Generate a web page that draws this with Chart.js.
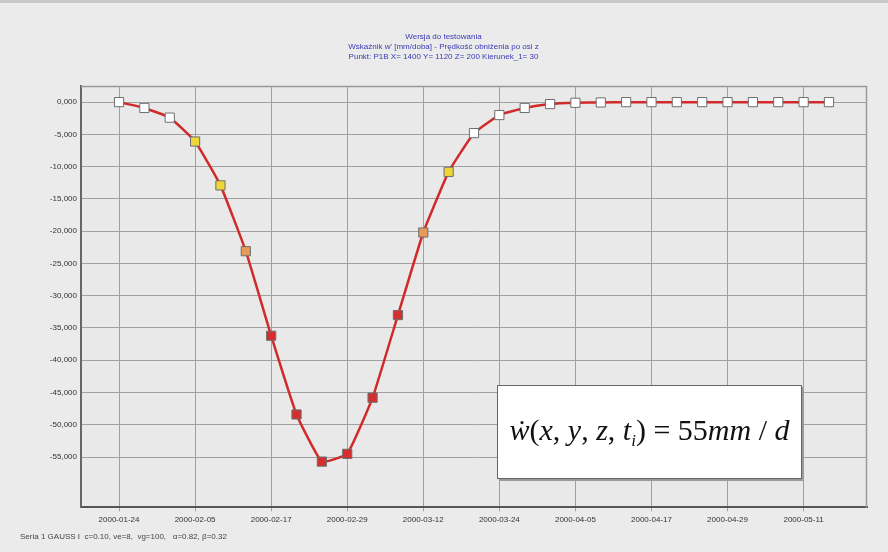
<!DOCTYPE html>
<html>
<head>
<meta charset="utf-8">
<script src="https://cdn.jsdelivr.net/npm/chart.js@4.4.1/dist/chart.umd.min.js"></script>
<style>
  html, body { margin: 0; padding: 0; background: #ebebeb; }
  #wrap { position: relative; width: 888px; height: 552px; background: #ebebeb; }
  #frame { position: absolute; left: 0; top: 0; width: 888px; height: 3px; background: #c8c8c8; }
  #formula {
    position: absolute; left: 497px; top: 385px; width: 303px; height: 92px;
    background: #ffffff; border: 1px solid #666; box-shadow: 2px 2px 0 #9a9a9a;
    font-family: "Liberation Serif", "DejaVu Serif", serif; font-size: 30px; color: #111;
    display: flex; align-items: center; justify-content: center; white-space: nowrap;
  }
  #formula sub { font-size: 17px; vertical-align: -6px; }
</style>
</head>
<body>
<div id="wrap">
  <canvas id="c" width="888" height="552"></canvas>
  <div id="frame"></div>
  <div id="formula"><span><i>ẇ</i>(<i>x</i>, <i>y</i>, <i>z</i>, <i>t</i><sub><i>i</i></sub>) = 55<i>mm</i> / <i>d</i></span></div>
</div>
<script>
// ---- data ----
const dates = [
  "2000-01-24","2000-01-28","2000-02-01","2000-02-05","2000-02-09","2000-02-13",
  "2000-02-17","2000-02-21","2000-02-25","2000-02-29","2000-03-04","2000-03-08",
  "2000-03-12","2000-03-16","2000-03-20","2000-03-24","2000-03-28","2000-04-01",
  "2000-04-05","2000-04-09","2000-04-13","2000-04-17","2000-04-21","2000-04-25",
  "2000-04-29","2000-05-03","2000-05-07","2000-05-11","2000-05-15"
];
const values = [
  0, -900, -2400, -6100, -12900, -23100,
  -36200, -48400, -55700, -54500, -45800, -33000,
  -20200, -10800, -4800, -2000, -900, -300,
  -100, -50, 0, 0, 0, 0,
  0, 0, 0, 0, 0
];
const tickDates = [
  "2000-01-24","2000-02-05","2000-02-17","2000-02-29","2000-03-12",
  "2000-03-24","2000-04-05","2000-04-17","2000-04-29","2000-05-11"
];
const yTicks = [0,-5000,-10000,-15000,-20000,-25000,-30000,-35000,-40000,-45000,-50000,-55000];
const titleLines = [
  "Wersja do testowania",
  "Wskaźnik w' [mm/doba] - Prędkość obniżenia po osi z",
  "Punkt: P1B X= 1400 Y= 1120 Z= 200 Kierunek_1= 30"
];
const footer = "Seria 1 GAUSS I  c=0.10, ve=8,  vg=100,   α=0.82, β=0.32";

// ---- helpers ----
const DAY = 86400000;
const origin = Date.UTC(2000, 0, 24);
function dayOf(s) {
  const [y, m, d] = s.split("-").map(Number);
  return Math.round((Date.UTC(y, m - 1, d) - origin) / DAY);
}
function fmtDay(n) {
  const d = new Date(origin + n * DAY);
  const p = v => String(v).padStart(2, "0");
  return d.getUTCFullYear() + "-" + p(d.getUTCMonth() + 1) + "-" + p(d.getUTCDate());
}
function markerColor(v) {
  const a = Math.abs(v);
  if (a < 5000) return "#ffffff";
  if (a < 15000) return "#eed636";
  if (a < 25000) return "#e59a55";
  return "#d42e2e";
}
const points = dates.map((d, i) => ({ x: dayOf(d), y: values[i] }));
const xTickVals = tickDates.map(dayOf);

const bgPlugin = {
  id: "bg",
  beforeDraw(chart) {
    const ctx = chart.ctx;
    ctx.save();
    ctx.fillStyle = "#ebebeb";
    ctx.fillRect(0, 0, chart.width, chart.height);
    const a = chart.chartArea;
    ctx.fillStyle = "#e9e9e9";
    ctx.fillRect(a.left, a.top, a.right - a.left, a.bottom - a.top);
    ctx.restore();
  },
  beforeDatasetsDraw(chart) {
    const ctx = chart.ctx, a = chart.chartArea;
    ctx.save();
    ctx.strokeStyle = "#9a9a9a";
    ctx.lineWidth = 1.5;
    ctx.beginPath();
    ctx.moveTo(a.left, a.top + 0.5);
    ctx.lineTo(a.right - 0.5, a.top + 0.5);
    ctx.lineTo(a.right - 0.5, a.bottom);
    ctx.stroke();
    ctx.restore();
  }
};

new Chart(document.getElementById("c"), {
  type: "line",
  data: {
    datasets: [{
      data: points,
      borderColor: "#d12a2a",
      borderWidth: 2.5,
      tension: 0.12,
      pointStyle: "rect",
      pointRadius: 6.5,
      pointHoverRadius: 6.5,
      pointBorderColor: "#6e6e6e",
      pointBorderWidth: 1,
      pointBackgroundColor: ctx => markerColor(values[ctx.dataIndex] ?? 0)
    }]
  },
  options: {
    responsive: false,
    animation: false,
    layout: { padding: { left: 20, right: 21, top: 0, bottom: 0 } },
    plugins: {
      legend: { display: false },
      tooltip: { enabled: false },
      title: {
        display: true,
        text: titleLines,
        color: "#3a3ab4",
        font: { family: "Arial, 'Liberation Sans', sans-serif", size: 8, weight: "normal", lineHeight: 1.25 },
        padding: { top: 32, bottom: 24 }
      },
      subtitle: {
        display: true,
        position: "bottom",
        align: "start",
        text: footer,
        color: "#444",
        font: { family: "Arial, 'Liberation Sans', sans-serif", size: 8, lineHeight: 1.2 },
        padding: { top: 2, bottom: 10 }
      }
    },
    scales: {
      x: {
        type: "linear",
        min: -6,
        max: 118,
        afterBuildTicks: s => { s.ticks = xTickVals.map(v => ({ value: v })); },
        afterFit: s => { s.height = 23; },
        ticks: {
          callback: v => fmtDay(v),
          color: "#333",
          font: { family: "Arial, 'Liberation Sans', sans-serif", size: 8 },
          maxRotation: 0,
          autoSkip: false,
          padding: 4
        },
        grid: { color: "#a0a0a0", lineWidth: 1, tickLength: 4 },
        border: { color: "#555", width: 2 }
      },
      y: {
        min: -62800,
        max: 2500,
        afterBuildTicks: s => { s.ticks = yTicks.map(v => ({ value: v })); },
        afterFit: s => { s.width = 61; },
        ticks: {
          callback: v => (v / 1000).toFixed(3).replace(".", ","),
          color: "#333",
          font: { family: "Arial, 'Liberation Sans', sans-serif", size: 8 },
          padding: 4
        },
        grid: { color: "#a0a0a0", lineWidth: 1, tickLength: 0 },
        border: { color: "#666", width: 2 }
      }
    }
  },
  plugins: [bgPlugin]
});
</script>
</body>
</html>
